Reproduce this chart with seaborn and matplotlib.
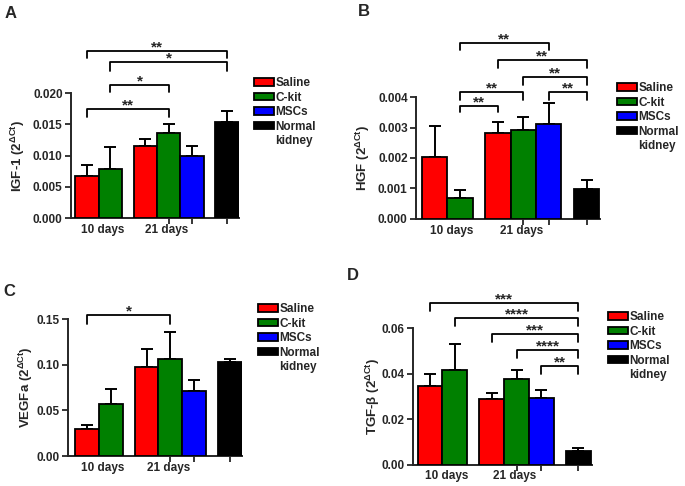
import numpy as np
import pandas as pd
import matplotlib
matplotlib.use("Agg")
import matplotlib.pyplot as plt
import seaborn as sns
from matplotlib.patches import Patch

sns.set_style("ticks")
plt.rcParams["font.family"] = ["Liberation Sans", "DejaVu Sans"]
plt.rcParams["font.weight"] = "bold"
plt.rcParams["mathtext.fontset"] = "custom"
plt.rcParams["mathtext.rm"] = "Liberation Sans:bold"
plt.rcParams["mathtext.it"] = "Liberation Sans:bold"
plt.rcParams["mathtext.bf"] = "Liberation Sans:bold"

# ---- data ----
bar_group = ["Saline", "C-kit", "Saline", "C-kit", "MSCs", "Normal kidney"]
day_labels = ["10 days", "21 days"]
legend_names = ["Saline", "C-kit", "MSCs", "Normal kidney"]
colors = {"Saline": "#ff0000", "C-kit": "#008000", "MSCs": "#0000ff", "Normal kidney": "#000000"}

igf1_mean = [0.0068, 0.0079, 0.0116, 0.0136, 0.0099, 0.0153]
igf1_sem = [0.0017, 0.0035, 0.0010, 0.0014, 0.0016, 0.0018]
hgf_mean = [0.00204, 0.00070, 0.00282, 0.00293, 0.00313, 0.00099]
hgf_sem = [0.00100, 0.00025, 0.00035, 0.00042, 0.00067, 0.00029]
vegfa_mean = [0.0292, 0.0569, 0.0974, 0.1058, 0.0715, 0.1026]
vegfa_sem = [0.0051, 0.0161, 0.0198, 0.0296, 0.0113, 0.0032]
tgfb_mean = [0.0347, 0.0414, 0.0287, 0.0378, 0.0291, 0.0060]
tgfb_sem = [0.0053, 0.0114, 0.0028, 0.0039, 0.0035, 0.0012]

# significance brackets: (bar i, bar j, line height, leg bottom, stars)
igf1_sig = [(0, 3, 0.01745, 0.0162, "**"), (1, 3, 0.0213, 0.0202, "*"),
            (1, 5, 0.0249, 0.0236, "*"), (0, 5, 0.0268, 0.0256, "**")]
hgf_sig = [(1, 4, 0.00578, 0.00553, "**"), (2, 5, 0.00522, 0.00496, "**"),
           (3, 5, 0.00465, 0.00441, "**"), (1, 3, 0.00415, 0.00391, "**"),
           (1, 2, 0.00370, 0.00351, "**"), (4, 5, 0.00416, 0.00391, "**")]
vegfa_sig = [(0, 3, 0.1544, 0.1445, "*")]
tgfb_sig = [(0, 5, 0.0710, 0.0673, "***"), (1, 5, 0.0644, 0.0609, "****"),
            (2, 5, 0.0575, 0.0539, "***"), (3, 5, 0.0502, 0.0470, "****"),
            (4, 5, 0.0432, 0.0400, "**")]

# layout: slot of each bar on the x axis (two groups + normal kidney)
slot = [0, 1, 2.5, 3.5, 4.5, 6]

panels = [
    dict(letter="A", mean=igf1_mean, sem=igf1_sem, sig=igf1_sig, ylabel=r"IGF-1 (2$^{\Delta Ct}$)",
         ymax=0.020, step=0.005, fmt="%.3f", rect=[0.1036, 0.5514, 0.2446, 0.2572], xlim=(-0.69, 6.5),
         lx=-0.26, letter_xy=(11, 14), leg_xy=(254, 77)),
    dict(letter="B", mean=hgf_mean, sem=hgf_sem, sig=hgf_sig, ylabel=r"HGF (2$^{\Delta Ct}$)",
         ymax=0.004, step=0.001, fmt="%.3f", rect=[0.6073, 0.5494, 0.2686, 0.2510], xlim=(-0.74, 6.53),
         lx=-0.24, letter_xy=(364, 11), leg_xy=(617, 82)),
    dict(letter="C", mean=vegfa_mean, sem=vegfa_sem, sig=vegfa_sig, ylabel=r"VEGFa (2$^{\Delta Ct}$)",
         ymax=0.15, step=0.05, fmt="%.2f", rect=[0.0993, 0.0617, 0.2540, 0.2819], xlim=(-0.79, 6.5),
         lx=-0.19, letter_xy=(9, 291), leg_xy=(258, 303)),
    dict(letter="D", mean=tgfb_mean, sem=tgfb_sem, sig=tgfb_sig, ylabel=r"TGF-β (2$^{\Delta Ct}$)",
         ymax=0.06, step=0.02, fmt="%.2f", rect=[0.6029, 0.0442, 0.2613, 0.2809], xlim=(-0.69, 6.55),
         lx=-0.175, letter_xy=(353, 275), leg_xy=(608, 311)),
]

W, H = 685, 486
fig = plt.figure(figsize=(W / 100, H / 100), dpi=100)

for p in panels:
    ax = fig.add_axes(p["rect"])
    df = pd.DataFrame({"slot": slot, "value": p["mean"], "group": bar_group})
    sns.barplot(data=df, x="slot", y="value", hue="group", hue_order=legend_names,
                palette=colors, saturation=1, native_scale=True, dodge=False, width=1.0,
                errorbar=None, edgecolor="black", linewidth=1.3, legend=False, ax=ax, zorder=3)
    ax.errorbar(slot, p["mean"], yerr=[np.zeros(len(slot)), p["sem"]], fmt="none",
                ecolor="black", elinewidth=1.4, capsize=4, capthick=1.4, zorder=2)

    ax.set_xlim(*p["xlim"])
    ax.set_ylim(0, p["ymax"])
    ax.set_yticks(np.arange(0, p["ymax"] + p["step"] / 2, p["step"]))
    ax.yaxis.set_major_formatter(matplotlib.ticker.FormatStrFormatter(p["fmt"]))
    ax.set_xticks([0.68, 3.42], labels=day_labels)
    ax.set_xticks([3.5, 4.5, 6], minor=True)
    ax.tick_params(axis="x", which="major", length=0, pad=4, labelsize=8.5)
    ax.tick_params(axis="x", which="minor", length=4, width=1.3)
    ax.tick_params(axis="y", length=4, width=1.3, labelsize=8.5, pad=2)
    ax.set_xlabel("")
    ax.set_ylabel(p["ylabel"], fontsize=9.5, fontweight="bold")
    ax.yaxis.set_label_coords(p["lx"], 0.5)
    sns.despine(ax=ax)
    for s in ("left", "bottom"):
        ax.spines[s].set_linewidth(1.4)

    for i, j, y, leg, stars in p["sig"]:
        xi, xj = slot[i], slot[j]
        ax.plot([xi, xi, xj, xj], [leg, y, y, leg], color="black", lw=1.3, clip_on=False)
        ax.annotate(stars, xy=((xi + xj) / 2, y), xytext=(0, -2.5), textcoords="offset points",
                    ha="center", va="bottom", fontsize=11, fontweight="bold", annotation_clip=False)

    handles = [Patch(facecolor=colors[g], edgecolor="black", linewidth=1.3) for g in legend_names]
    handles.append(Patch(facecolor="none", edgecolor="none"))
    fig.legend(handles, ["Saline", "C-kit", "MSCs", "Normal", "kidney"],
               loc="upper left", bbox_to_anchor=(p["leg_xy"][0] / W, 1 - p["leg_xy"][1] / H),
               bbox_transform=fig.transFigure, frameon=False, borderpad=0, borderaxespad=0,
               handlelength=1.7, handleheight=0.6, handletextpad=0.1, labelspacing=0.22,
               prop={"size": 8.5, "weight": "bold"})

    fig.text(p["letter_xy"][0] / W, 1 - p["letter_xy"][1] / H, p["letter"],
             fontsize=12, fontweight="bold", ha="center", va="center")

fig.savefig("out.png", dpi=100)
